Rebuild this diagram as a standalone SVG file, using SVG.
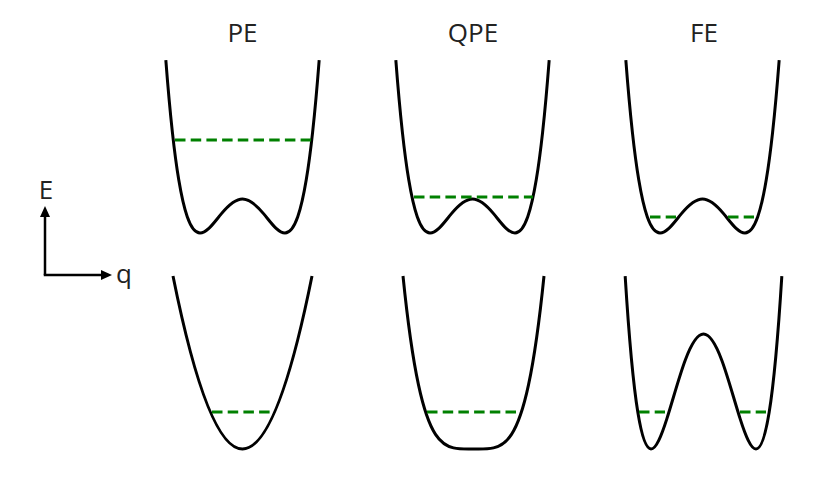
<svg xmlns="http://www.w3.org/2000/svg" xmlns:xlink="http://www.w3.org/1999/xlink" width="831" height="477" viewBox="0 0 831 477">
<style>
.title{font-family:"Open Sans","Noto Sans","Liberation Sans",sans-serif;font-size:26px;fill:#222;text-anchor:middle}
.ax{font-family:"Open Sans","Noto Sans","Liberation Sans",sans-serif;font-size:26px;fill:#222}
.curve{fill:none;stroke:#000;stroke-width:3;stroke-linecap:butt;stroke-linejoin:round}
.level{stroke:#008000;stroke-width:3;stroke-dasharray:10.5 5.2;fill:none}
.axis{stroke:#000;stroke-width:2.5;fill:none}
</style>
<defs>
<marker id="arr" markerUnits="userSpaceOnUse" markerWidth="12" markerHeight="11" refX="3" refY="5" orient="auto">
<path d="M0,0 L11,5 L0,10 z" fill="#000"/>
</marker>
<path id="dw" d="M-76.67,-172.8 C-74.49,-144.44 -72.31,-120.71 -70.125,-100.88 C-68,-81.55 -65.875,-65.88 -63.75,-53.13 C-60.92,-36.13 -58.08,-24.32 -55.25,-16.19 C-51,-3.99 -46.75,0 -42.5,0 C-35.42,0 -28.33,-10.625 -21.25,-19.125 C-14.17,-27.625 -7.08,-34 0,-34 C7.08,-34 14.17,-27.625 21.25,-19.125 C28.33,-10.625 35.42,0 42.5,0 C46.75,0 51,-3.99 55.25,-16.19 C58.08,-24.32 60.92,-36.13 63.75,-53.13 C65.875,-65.88 68,-81.55 70.125,-100.88 C72.31,-120.71 74.49,-144.44 76.67,-172.8"/>
</defs>

<g id="titles">
<text class="title" x="242.5" y="42">PE</text>
<text class="title" x="473" y="42">QPE</text>
<text class="title" x="704" y="42">FE</text>
</g>

<g id="axes">
<line class="axis" x1="45" y1="275" x2="45" y2="214" marker-end="url(#arr)"/>
<line class="axis" x1="43.75" y1="275" x2="104" y2="275" marker-end="url(#arr)"/>
<text class="ax" x="46" y="199" text-anchor="middle">E</text>
<text class="ax" x="116" y="283">q</text>
</g>

<g id="pe-top">
<use xlink:href="#dw" class="curve" transform="translate(242.5,233)"/>
<line class="level" x1="175" y1="140" x2="311" y2="140"/>
</g>

<g id="qpe-top">
<use xlink:href="#dw" class="curve" transform="translate(472.5,233)"/>
<line class="level" x1="414" y1="197" x2="533" y2="197"/>
</g>

<g id="fe-top">
<use xlink:href="#dw" class="curve" transform="translate(702.5,233)"/>
<line class="level" x1="650" y1="217" x2="676" y2="217"/>
<line class="level" x1="728" y1="217" x2="754" y2="217"/>
</g>

<g id="pe-bottom">
<path class="curve" transform="translate(242.5,449)" d="M-69.5,-173 Q0,173 69.5,-173"/>
<line class="level" x1="212" y1="412" x2="270" y2="412"/>
</g>

<g id="qpe-bottom">
<path class="curve" transform="translate(473.5,449)" d="M-70.5,-173 C-65.333,-122.28 -60.167,-88.16 -55,-64.08 C-49.333,-37.67 -43.667,-23.31 -38,-14.6 C-32,-5.378 -26,-2.466 -20,-1.121 C-13.333,0.373 -6.667,0 0,0 C6.667,0 13.333,0.373 20,-1.121 C26,-2.466 32,-5.378 38,-14.6 C43.667,-23.31 49.333,-37.67 55,-64.08 C60.167,-88.16 65.333,-122.28 70.5,-173"/>
<line class="level" x1="427" y1="412" x2="516" y2="412"/>
</g>

<g id="fe-bottom">
<path class="curve" transform="translate(703.5,449)" d="M-78.33,-172.88 C-74.095,-105 -69.86,-62.48 -65.625,-36.39 C-61.25,-9.44 -56.875,0 -52.5,0 C-47.25,0 -42,-13.49 -36.75,-29.91 C-30.625,-49.07 -24.5,-72.07 -18.375,-88.55 C-12.25,-105.03 -6.125,-115 0,-115 C6.125,-115 12.25,-105.03 18.375,-88.55 C24.5,-72.07 30.625,-49.07 36.75,-29.91 C42,-13.49 47.25,0 52.5,0 C56.875,0 61.25,-9.44 65.625,-36.39 C69.86,-62.48 74.095,-105 78.33,-172.88"/>
<line class="level" x1="639" y1="412" x2="665" y2="412"/>
<line class="level" x1="740" y1="412" x2="766" y2="412"/>
</g>
</svg>
